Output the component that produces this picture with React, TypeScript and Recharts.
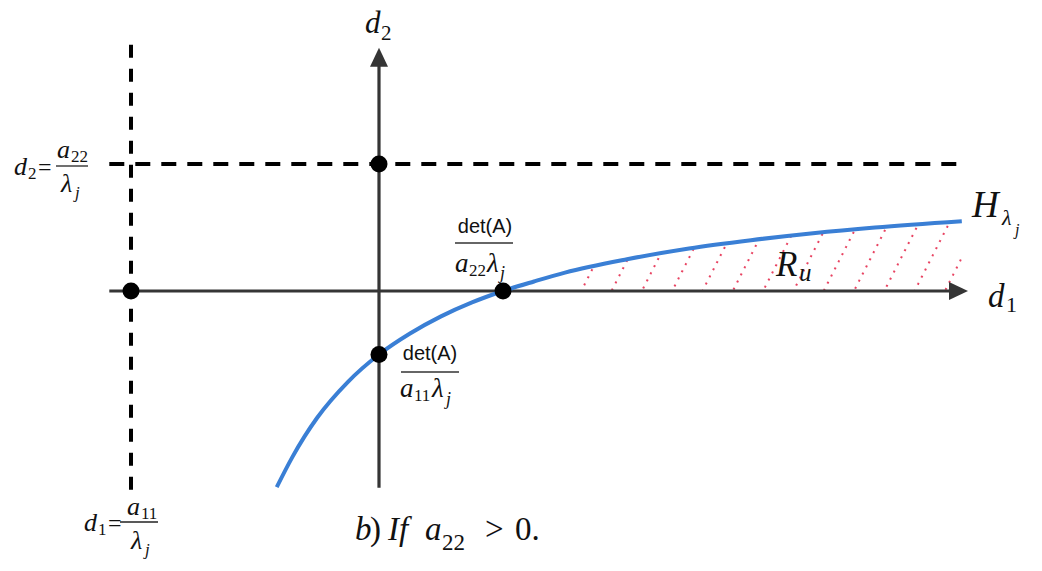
import React from 'react';
import { ComposedChart, Line, Area, XAxis, YAxis, ReferenceLine, ReferenceDot } from 'recharts';

// Hyperbola H_lambda_j (d1 -> d2)
const curveX = [-1.65, -1.4, -1.2, -1.0, -0.5, 0, 0.5, 1, 1.5, 2, 2.5, 3, 4, 5, 6, 7, 8, 9.4];
const curveY = [-3.09, -2.62, -2.29, -2.0, -1.43, -1.0, -0.67, -0.4, -0.18, 0, 0.15, 0.29, 0.5, 0.67, 0.8, 0.91, 1.0, 1.1];
// hatched region R_u starts here (on the d1 axis)
const hatchFrom = 3;
// asymptotes
const asymD1 = -4;
const asymD2 = 2;
// marked points
const pointsX = [-4, 0, 2, 0];
const pointsY = [0, 2, 0, -1];
// axis extents
const d1AxisRange = [-4.35, 9.5];
const d2AxisRange = [-3.1, 3.83];
const vDashRange = [-3.13, 3.9];
const hDashRange = [-4.35, 9.4];

const data = curveX.map((x, i) => ({
  x,
  curve: curveY[i],
  hatch: x >= hatchFrom ? curveY[i] : undefined,
}));

const AXIS = '#353535';
const SERIF = '"Liberation Serif", "DejaVu Serif", serif';
const SANS = '"Liberation Sans", Arial, sans-serif';

const Arrow = (props: any) => {
  const { x1, y1, x2, y2 } = props;
  const dx = x2 - x1;
  const dy = y2 - y1;
  const len = Math.hypot(dx, dy) || 1;
  const ux = dx / len;
  const uy = dy / len;
  const L = 19;
  const W = 9;
  const bx = x2 - ux * L;
  const by = y2 - uy * L;
  const pts = `${x2},${y2} ${bx - uy * W},${by + ux * W} ${bx + uy * W},${by - ux * W}`;
  return (
    <g>
      <line x1={x1} y1={y1} x2={bx + ux} y2={by + uy} stroke={AXIS} strokeWidth={3.2} />
      <polygon points={pts} fill={AXIS} />
    </g>
  );
};

const T = (x: number, y: number, s: string, size: number, italic = true, family = SERIF, anchor: any = 'start') => (
  <text x={x} y={y} fontSize={size} fontStyle={italic ? 'italic' : 'normal'} fontFamily={family} fill="#111" textAnchor={anchor}>
    {s}
  </text>
);

const Labels = (p: any) => {
  const ox = p.cx;
  const oy = p.cy;
  const X = (v: number) => ox + v - 379;
  const Y = (v: number) => oy + v - 291;
  return (
    <g>
      {/* d2 axis title */}
      {T(X(365), Y(33), 'd', 31)}
      {T(X(381), Y(40), '2', 21, false)}
      {/* d1 axis title */}
      {T(X(988), Y(307), 'd', 33)}
      {T(X(1006), Y(312), '1', 22, false)}
      {/* H_lambda_j */}
      {T(X(972), Y(217), 'H', 37)}
      {T(X(1002), Y(225), 'λ', 22)}
      {T(X(1015), Y(235), 'j', 16)}
      {/* R_u */}
      {T(X(776), Y(276), 'R', 35)}
      {T(X(799), Y(281), 'u', 25)}
      {/* det(A)/(a22 lambda_j) */}
      {T(X(485), Y(233), 'det(A)', 20, false, SANS, 'middle')}
      <line x1={X(455)} x2={X(513)} y1={Y(243)} y2={Y(243)} stroke="#333" strokeWidth={1.5} />
      {T(X(455), Y(272), 'a', 27)}
      {T(X(469), Y(276), '22', 17, false)}
      {T(X(487), Y(272), 'λ', 27)}
      {T(X(500), Y(279), 'j', 18)}
      {/* det(A)/(a11 lambda_j) */}
      {T(X(430), Y(360), 'det(A)', 20, false, SANS, 'middle')}
      <line x1={X(401)} x2={X(459)} y1={Y(372)} y2={Y(372)} stroke="#333" strokeWidth={1.5} />
      {T(X(400), Y(397), 'a', 27)}
      {T(X(414), Y(401), '11', 17, false)}
      {T(X(432), Y(397), 'λ', 27)}
      {T(X(446), Y(405), 'j', 18)}
      {/* d2 = a22 / lambda_j */}
      {T(X(14), Y(175), 'd', 26)}
      {T(X(28), Y(179), '2', 17, false)}
      {T(X(38), Y(175), '=', 24, false)}
      <line x1={X(56)} x2={X(88)} y1={Y(166)} y2={Y(166)} stroke="#222" strokeWidth={1.3} />
      {T(X(57), Y(158), 'a', 26)}
      {T(X(71), Y(162), '22', 17, false)}
      {T(X(61), Y(192), 'λ', 26)}
      {T(X(75), Y(198), 'j', 17)}
      {/* d1 = a11 / lambda_j */}
      {T(X(84), Y(531), 'd', 26)}
      {T(X(98), Y(535), '1', 17, false)}
      {T(X(108), Y(531), '=', 24, false)}
      <line x1={X(120)} x2={X(158)} y1={Y(522)} y2={Y(522)} stroke="#222" strokeWidth={1.3} />
      {T(X(127), Y(515), 'a', 26)}
      {T(X(141), Y(519), '11', 17, false)}
      {T(X(131), Y(549), 'λ', 26)}
      {T(X(145), Y(555), 'j', 17)}
      {/* caption */}
      {T(X(355), Y(540), 'b', 33)}
      {T(X(370), Y(540), ')', 33, false)}
      {T(X(388), Y(540), 'If', 33)}
      {T(X(425), Y(540), 'a', 33)}
      {T(X(442), Y(550), '22', 23, false)}
      {T(X(485), Y(540), '>', 33, false)}
      {T(X(515), Y(540), '0.', 33, false)}
    </g>
  );
};

export default function App() {
  return (
    <div style={{ position: 'absolute', left: 0, top: 0, width: 1042, height: 571, background: '#fff' }}>
      <ComposedChart
        width={1042}
        height={571}
        data={data}
        margin={{ top: 5.25, right: 12, bottom: 26, left: 7 }}
      >
        <defs>
          <pattern id="hatch" patternUnits="userSpaceOnUse" width="27" height="8" patternTransform="rotate(27)">
            <circle cx="2" cy="4" r="1.1" fill="#e3143a" />
          </pattern>
        </defs>
        <XAxis type="number" dataKey="x" domain={[-6, 10.5]} hide allowDataOverflow />
        <YAxis type="number" domain={[-4, 4.5]} hide allowDataOverflow />
        <Area
          dataKey="hatch"
          type="monotone"
          baseValue={0}
          fill="url(#hatch)"
          fillOpacity={1}
          stroke="none"
          isAnimationActive={false}
          connectNulls={false}
          dot={false}
          activeDot={false}
        />
        <ReferenceLine
          segment={[{ x: asymD1, y: vDashRange[0] }, { x: asymD1, y: vDashRange[1] }]}
          stroke="#000"
          strokeWidth={4}
          strokeDasharray="13 11"
        />
        <ReferenceLine
          segment={[{ x: hDashRange[0], y: asymD2 }, { x: hDashRange[1], y: asymD2 }]}
          stroke="#000"
          strokeWidth={4}
          strokeDasharray="15 11"
        />
        <ReferenceLine segment={[{ x: d1AxisRange[0], y: 0 }, { x: d1AxisRange[1], y: 0 }]} shape={Arrow} />
        <ReferenceLine segment={[{ x: 0, y: d2AxisRange[0] }, { x: 0, y: d2AxisRange[1] }]} shape={Arrow} />
        <Line
          dataKey="curve"
          type="monotone"
          stroke="#3a7fd5"
          strokeWidth={4}
          dot={false}
          activeDot={false}
          isAnimationActive={false}
        />
        {pointsX.map((x, i) => (
          <ReferenceDot key={i} x={x} y={pointsY[i]} r={8.5} fill="#000" stroke="none" />
        ))}
        <ReferenceDot x={0} y={0} r={0} shape={Labels} />
      </ComposedChart>
    </div>
  );
}
